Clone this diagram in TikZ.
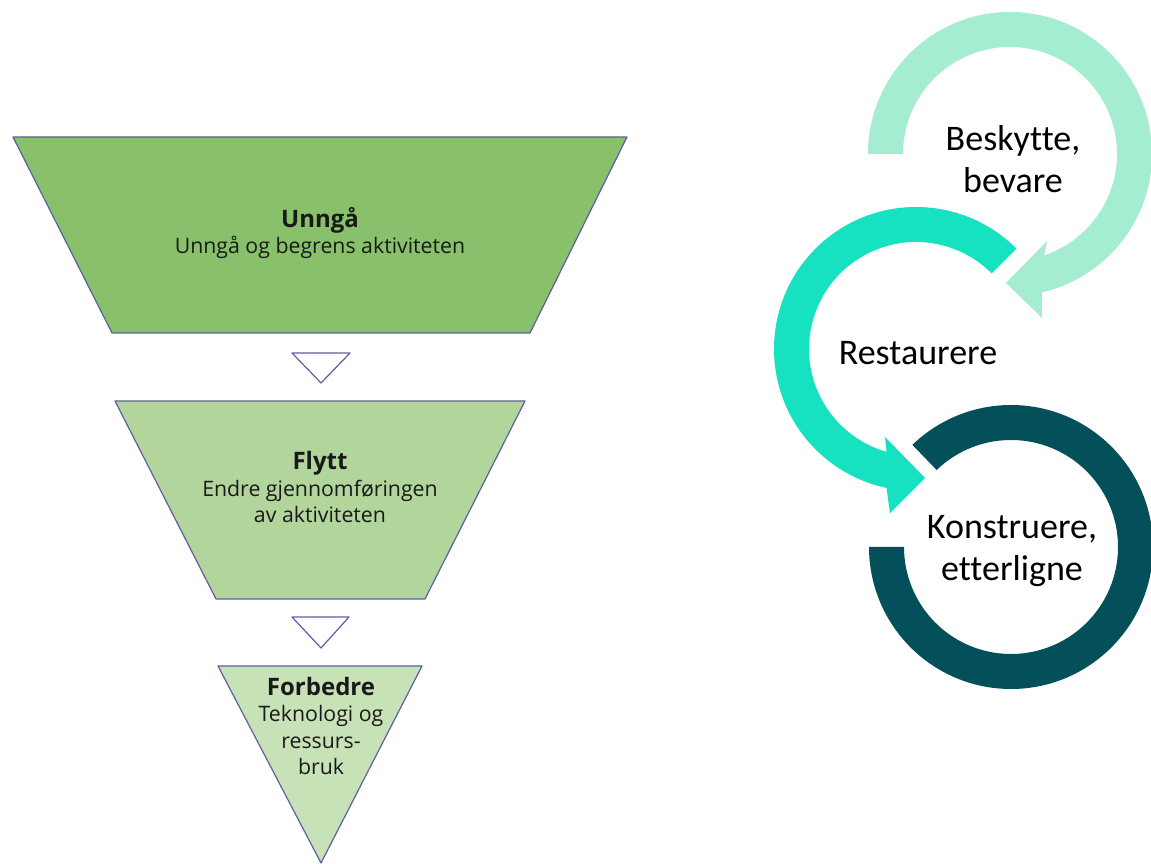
\documentclass[tikz,border=0pt]{standalone}
\usepackage{fontspec}
\setmainfont{Open Sans}
\newfontfamily\ringfont[Ligatures=NoCommon]{Carlito}
\usepackage{tikz}
\usetikzlibrary{calc}
\definecolor{lvlone}{HTML}{88C06B}
\definecolor{lvltwo}{HTML}{B2D59C}
\definecolor{lvlthree}{HTML}{C8E2B8}
\definecolor{lvledge}{HTML}{5D5FA3}
\definecolor{ringone}{HTML}{A4EDD0}
\definecolor{ringtwo}{HTML}{16E1C1}
\definecolor{ringthree}{HTML}{03505A}
\newcommand{\lvltitle}[1]{{\fontsize{24}{26.5}\selectfont\bfseries #1}}

\begin{document}
\begin{tikzpicture}[line cap=round,line join=round,x=1pt,y=1pt,
    level/.style={draw=lvledge,line width=1.2pt},
    pointer/.style={draw=lvledge,line width=1.2pt,fill=white},
    lvltext/.style={align=center,text=black!90,font=\fontsize{21.3}{26.5}\selectfont},
    ringtext/.style={align=center,text=black,font=\ringfont\fontsize{36}{42.5}\selectfont}]
	\useasboundingbox (0,0) rectangle (1151,864);
	\draw [level,fill=lvlone] (13,727)-- (627,727)-- (530,531)-- (112,531)-- cycle;
	\draw [pointer] (292,511)-- (350,511)-- (321,481)-- cycle;
	\draw [level,fill=lvltwo] (115,463)-- (525,463)-- (425,265)-- (216,265)-- cycle;
	\draw [pointer] (292,247)-- (349,247)-- (321,216)-- cycle;
	\draw [level,fill=lvlthree] (218,198)-- (422,198)-- (321,1)-- cycle;
	\node [lvltext] (unnga) at (320,631) {\lvltitle{Unngå}\\Unngå og begrens aktiviteten};
	\node [lvltext] (flytt) at (320,377) {\lvltitle{Flytt}\\Endre gjennomføringen\\av aktiviteten};
	\node [lvltext] (forbedre) at (321,138) {\lvltitle{Forbedre}\\Teknologi og\\ressurs-\\bruk};
	\coordinate (c1) at (1010,710);
	\coordinate (c2) at (916,515);
	\coordinate (c3) at (1011,317);
	\fill [ringone] ($(c1)+(180:142)$) arc[start angle=180,end angle=-77,radius=142]
		-- (1042,546) -- (1006,581) -- (1047,623)
		-- ($(c1)+(-71.4:107)$) arc[start angle=-71.4,end angle=180,radius=107] -- cycle;
	\fill [ringtwo] ($(c2)+(45:142)$) arc[start angle=45,end angle=258,radius=142]
		-- (890,351) -- (925,386) -- (885,427)
		-- ($(c2)+(254:107)$) arc[start angle=254,end angle=45,radius=107] -- cycle;
	\fill [ringthree] ($(c3)+(180:142)$) arc[start angle=180,end angle=494,radius=142]
		-- ($(c3)+(134:107)$) arc[start angle=134,end angle=-180,radius=107] -- cycle;
	\node [ringtext] (beskytte) at (1013,705) {Beskytte,\\bevare};
	\node [ringtext] (restaurere) at (918,511) {Restaurere};
	\node [ringtext] (konstruere) at (1012,313) {Konstruere,\\etterligne};
\end{tikzpicture}
\end{document}
